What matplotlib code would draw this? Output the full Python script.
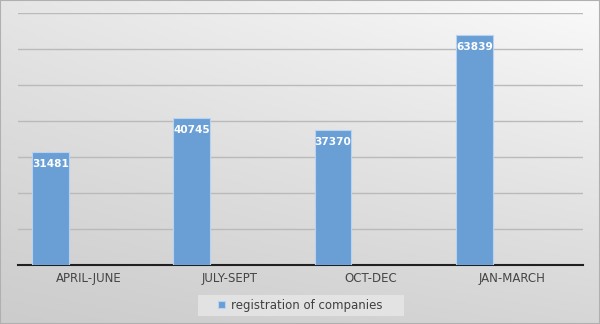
import matplotlib
matplotlib.use("Agg")
import matplotlib.pyplot as plt
import numpy as np

categories = ["APRIL-JUNE", "JULY-SEPT", "OCT-DEC", "JAN-MARCH"]
values = [31481, 40745, 37370, 63839]
series_name = "registration of companies"

plt.rcParams['font.family'] = ['DejaVu Sans']

fig = plt.figure(figsize=(6, 3.24), dpi=100)

# background gradient
bg = fig.add_axes([0, 0, 1, 1], zorder=-10)
h, w = 100, 200
yy, xx = np.mgrid[0:1:h*1j, 0:1:w*1j]
tl, tr, bl, br = 0.90, 0.98, 0.80, 0.84
grad = (tl*(1-xx)*(1-yy) + tr*xx*(1-yy) + bl*(1-xx)*yy + br*xx*yy)
bg.imshow(np.dstack([grad]*3), aspect='auto', extent=[0, 1, 0, 1], origin='upper')
bg.set_axis_off()
fig.patches.append(plt.Rectangle((0, 0), 1, 1, transform=fig.transFigure,
                                 fill=False, edgecolor='#b0b0b0', lw=1.5))
# legend backdrop
fig.patches.append(plt.Rectangle((0.33, 0.025), 0.343, 0.066, transform=fig.transFigure,
                                 facecolor='#e6e6e6', alpha=0.85, edgecolor='none'))

ax = fig.add_axes([0.03, 0.182, 0.942, 0.778])
ax.set_facecolor('none')
x = np.arange(len(categories))
offset = -0.27
bars = ax.bar(x + offset, values, width=0.26, color='#6a9fd6',
              edgecolor='#b8d3ef', linewidth=0.8, zorder=3, label=series_name)
for xi, v in zip(x, values):
    ax.text(xi + offset, v - 1900, str(v), ha='center', va='top', color='white',
            fontsize=7.6, fontweight='bold', zorder=4)

ax.set_xlim(-0.5, 3.5)
ax.set_ylim(0, 70000)
ax.set_yticks(np.arange(10000, 70001, 10000))
ax.yaxis.grid(True, color='#bababa', lw=1)
ax.set_yticklabels([])
ax.tick_params(axis='y', length=0)
ax.set_xticks(x)
ax.set_xticklabels(categories, fontsize=8.5, color='#454545')
ax.tick_params(axis='x', length=0, pad=5)
for s in ['top', 'right', 'left']:
    ax.spines[s].set_visible(False)
ax.spines['bottom'].set_color('#202020')
ax.spines['bottom'].set_linewidth(1.5)
ax.set_axisbelow(True)

leg = fig.legend(handles=[bars], labels=[series_name], loc='center',
                 bbox_to_anchor=(0.5, 0.058), fontsize=8.5, frameon=False,
                 handlelength=0.6, handleheight=0.6,
                 handletextpad=0.5, borderpad=0.3, borderaxespad=0)
for t in leg.get_texts():
    t.set_color('#404040')

fig.savefig("out.png", dpi=100)
